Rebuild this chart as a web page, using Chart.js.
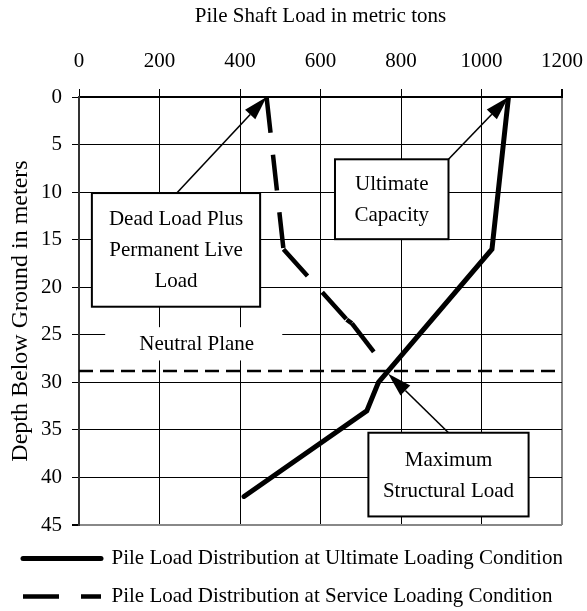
<!DOCTYPE html>
<html>
<head>
<meta charset="utf-8">
<script src="https://cdn.jsdelivr.net/npm/chart.js@4/dist/chart.umd.min.js"></script>
<style>
  html, body { margin: 0; padding: 0; background: #fff; }
  #wrap { width: 587px; height: 611px; }
</style>
</head>
<body>
<div id="wrap"><canvas id="pileChart"></canvas></div>
<script>
// 데이터 ===========================================
// load (metric tons) / depth (m)
const ultimateLoad = [1067, 1026, 744, 715, 410];
const ultimateDepth = [0, 16, 30, 33, 42];
const serviceLoad = [466, 508, 665, 678, 736];
const serviceDepth = [0, 16, 23.4, 23.8, 27];
const neutralPlaneDepth = 28.8;

const loadTicks = [0, 200, 400, 600, 800, 1000, 1200];
const depthTicks = [0, 5, 10, 15, 20, 25, 30, 35, 40, 45];

const seriesNames = [
  "Pile Load Distribution at Ultimate Loading Condition",
  "Pile Load Distribution at Service Loading Condition",
];

function toPoints(xs, ys) {
  return xs.map((x, i) => ({ x: x, y: ys[i] }));
}

// 설명 박스 (data 좌표)
const notes = [
  { lines: ["Dead Load Plus", "Permanent Live", "Load"], box: [32, 10.1, 450, 22.05], tail: [243, 10.1], tip: "service" },
  { lines: ["Ultimate", "Capacity"], box: [636, 6.55, 918, 14.95], tail: [918, 6.55], tip: "ultimate" },
  { lines: ["Maximum", "Structural Load"], box: [719, 35.3, 1117, 44.1], tail: [918, 35.3], tip: "neutral" },
];

const FONT = "'Liberation Serif', 'Times New Roman', serif";
Chart.defaults.color = "#000";
Chart.defaults.font.family = FONT;
Chart.defaults.font.size = 21;

// 궁극하중선이 중립면을 지나는 점
function crossAtDepth(xs, ys, d) {
  for (let i = 0; i < ys.length - 1; i++) {
    if (ys[i] <= d && ys[i + 1] >= d) {
      const t = (d - ys[i]) / (ys[i + 1] - ys[i]);
      return xs[i] + t * (xs[i + 1] - xs[i]);
    }
  }
  return xs[0];
}

function drawArrow(ctx, x1, y1, x2, y2) {
  const ang = Math.atan2(y2 - y1, x2 - x1);
  const len = 24, half = 7;
  const bx = x2 - Math.cos(ang) * len, by = y2 - Math.sin(ang) * len;
  ctx.beginPath();
  ctx.moveTo(x1, y1);
  ctx.lineTo(bx, by);
  ctx.lineWidth = 1.6;
  ctx.stroke();
  ctx.beginPath();
  ctx.moveTo(x2, y2);
  ctx.lineTo(bx + Math.sin(ang) * half, by - Math.cos(ang) * half);
  ctx.lineTo(bx - Math.sin(ang) * half, by + Math.cos(ang) * half);
  ctx.closePath();
  ctx.fill();
}

const notePlugin = {
  id: "notes",
  afterLayout(chart) {
    // 범례를 조금 아래로
    chart.legend.top += 6;
    chart.legend.bottom += 6;
  },
  afterDatasetsDraw(chart) {
    const ctx = chart.ctx;
    const sx = chart.scales.x, sy = chart.scales.y;
    ctx.save();
    ctx.font = "21px " + FONT;
    ctx.textAlign = "center";
    ctx.textBaseline = "middle";

    // Neutral Plane 라벨
    const nx1 = sx.getPixelForValue(65), nx2 = sx.getPixelForValue(505);
    const ny1 = sy.getPixelForValue(24.2), ny2 = sy.getPixelForValue(27.7);
    ctx.fillStyle = "#fff";
    ctx.fillRect(nx1, ny1, nx2 - nx1, ny2 - ny1);
    ctx.fillStyle = "#000";
    ctx.fillText("Neutral Plane", (nx1 + nx2) / 2 + 3, (ny1 + ny2) / 2 + 1);

    const tips = {
      service: [serviceLoad[0], serviceDepth[0]],
      ultimate: [ultimateLoad[0], ultimateDepth[0]],
      neutral: [crossAtDepth(ultimateLoad, ultimateDepth, neutralPlaneDepth), neutralPlaneDepth + 0.3],
    };

    ctx.strokeStyle = "#000";
    notes.forEach((n) => {
      const t = tips[n.tip];
      ctx.fillStyle = "#000";
      drawArrow(ctx, sx.getPixelForValue(n.tail[0]), sy.getPixelForValue(n.tail[1]),
        sx.getPixelForValue(t[0]), sy.getPixelForValue(t[1]));

      const x1 = sx.getPixelForValue(n.box[0]), y1 = sy.getPixelForValue(n.box[1]);
      const x2 = sx.getPixelForValue(n.box[2]), y2 = sy.getPixelForValue(n.box[3]);
      ctx.fillStyle = "#fff";
      ctx.fillRect(x1, y1, x2 - x1, y2 - y1);
      ctx.lineWidth = 2;
      ctx.strokeRect(x1, y1, x2 - x1, y2 - y1);
      ctx.fillStyle = "#000";
      const lh = 31;
      const cy = (y1 + y2) / 2 - ((n.lines.length - 1) * lh) / 2;
      n.lines.forEach((s, i) => ctx.fillText(s, (x1 + x2) / 2, cy + i * lh + 1));
    });
    ctx.restore();
  },
};

const lastLoad = loadTicks[loadTicks.length - 1];
const lastDepth = depthTicks[depthTicks.length - 1];

new Chart(document.getElementById("pileChart"), {
  type: "scatter",
  data: {
    datasets: [
      {
        label: seriesNames[0],
        data: toPoints(ultimateLoad, ultimateDepth),
        showLine: true,
        borderColor: "#000",
        backgroundColor: "#000",
        borderWidth: 5,
        borderCapStyle: "round",
        pointRadius: 0,
      },
      {
        label: seriesNames[1],
        data: toPoints(serviceLoad, serviceDepth),
        showLine: true,
        borderColor: "#000",
        backgroundColor: "#000",
        borderWidth: 4.5,
        borderDash: [36, 22],
        // 엑셀처럼 구간마다 점선 패턴을 새로 시작
        segment: { borderDashOffset: (c) => c.p0DataIndex * 0.001 },
        pointRadius: 0,
      },
      {
        label: "Neutral Plane",
        data: [{ x: loadTicks[0], y: neutralPlaneDepth }, { x: lastLoad, y: neutralPlaneDepth }],
        showLine: true,
        borderColor: "#000",
        borderWidth: 2.5,
        borderDash: [14, 7],
        pointRadius: 0,
      },
    ],
  },
  options: {
    responsive: true,
    maintainAspectRatio: false,
    animation: false,
    layout: { padding: { left: 6, right: 25, top: 0, bottom: 0 } },
    plugins: {
      tooltip: { enabled: false },
      legend: {
        position: "bottom",
        align: "start",
        labels: {
          usePointStyle: true,
          pointStyleWidth: 78,
          padding: 17,
          color: "#000",
          font: { family: FONT, size: 21 },
          generateLabels: (chart) => {
            const items = Chart.defaults.plugins.legend.labels.generateLabels(chart);
            return items
              .filter((it) => it.datasetIndex < 2)
              .map((it) => {
                const ds = chart.data.datasets[it.datasetIndex];
                it.pointStyle = "line";
                it.lineDash = ds.borderDash || [];
                it.lineWidth = ds.borderWidth;
                it.lineCap = ds.borderCapStyle || "butt";
                it.strokeStyle = "#000";
                it.fillStyle = "#000";
                return it;
              });
          },
        },
      },
    },
    scales: {
      x: {
        type: "linear",
        position: "top",
        min: loadTicks[0],
        max: lastLoad,
        afterBuildTicks: (s) => { s.ticks = loadTicks.map((v) => ({ value: v })); },
        afterFit: (s) => { s.height = 97; },
        // padding 작게 (오른쪽 여백 때문에), 라벨 높이는 lineHeight로 맞춤
        ticks: { padding: 4, maxRotation: 0, color: "#000", font: { size: 21, lineHeight: 2.2 }, callback: (v) => String(v) },
        grid: {
          color: (c) => (c.tick && c.tick.value === lastLoad ? "#888" : "#000"),
          lineWidth: (c) => (c.tick && c.tick.value === lastLoad ? 2 : 1),
          tickColor: "#000",
          tickLength: 8,
        },
        border: { color: "#000", width: 2 },
        title: { display: true, text: "Pile Shaft Load in metric tons", color: "#000", font: { size: 21 }, padding: { top: 4, bottom: 0 } },
      },
      y: {
        type: "linear",
        reverse: true,
        min: depthTicks[0],
        max: lastDepth,
        afterBuildTicks: (s) => { s.ticks = depthTicks.map((v) => ({ value: v })); },
        afterFit: (s) => { s.width = 73; },
        ticks: { padding: 10, color: "#000", font: { size: 21 }, callback: (v) => String(v) },
        grid: {
          color: (c) => (c.tick && c.tick.value === lastDepth ? "#888" : "#000"),
          lineWidth: (c) => (c.tick && c.tick.value === lastDepth ? 2 : 1),
          tickColor: "#000",
          tickLength: 7,
        },
        border: { color: "#333", width: 2 },
        title: { display: true, text: "Depth Below Ground in meters", color: "#000", font: { size: 24 }, padding: { top: 0, bottom: 0 } },
      },
    },
  },
  plugins: [notePlugin],
});
</script>
</body>
</html>
